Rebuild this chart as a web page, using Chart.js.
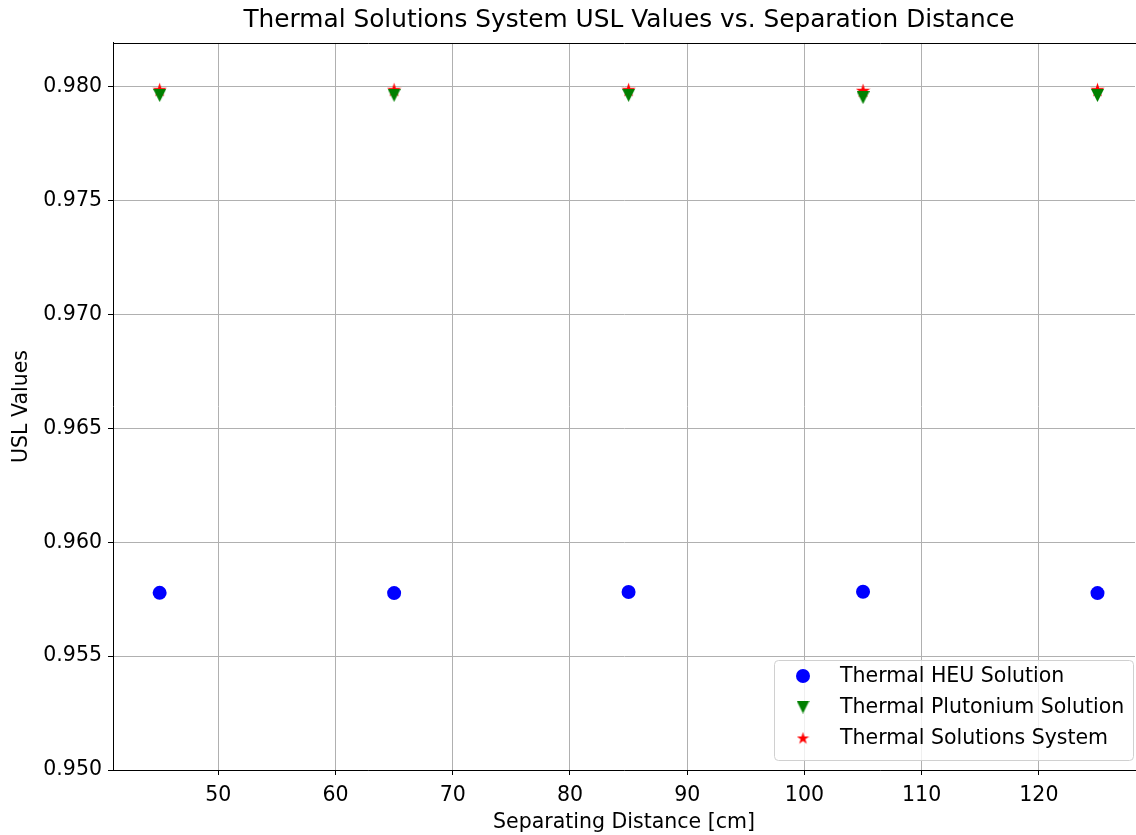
<!DOCTYPE html>
<html><head><meta charset="utf-8">
<script src="https://cdn.jsdelivr.net/npm/chart.js@4"></script>
<style>html,body{margin:0;padding:0;background:#fff}#wrap{width:1136px;height:835px}</style>
</head><body><div id="wrap"><canvas id="c" width="1136" height="835"></canvas></div>
<script>
const distances = [45, 65, 85, 105, 125];
const heuValues = [0.95778, 0.95777, 0.95782, 0.95783, 0.95777];
const puValues = [0.97962, 0.97963, 0.97963, 0.97953, 0.97962];
const systemValues = [0.97988, 0.97988, 0.97988, 0.97984, 0.97988];
const seriesLabels = ['Thermal HEU Solution', 'Thermal Plutonium Solution', 'Thermal Solutions System'];
const xTicks = [50, 60, 70, 80, 90, 100, 110, 120];
const yTicks = [0.950, 0.955, 0.960, 0.965, 0.970, 0.975, 0.980];

const FONT = 'DejaVu Sans';

function makeStar(size, color) {
  const c = document.createElement('canvas');
  c.width = size; c.height = size;
  const g = c.getContext('2d');
  const cx = size / 2, cy = size / 2 + 0.6, R = size / 2, r = R * 0.381966;
  g.beginPath();
  for (let i = 0; i < 10; i++) {
    const a = -Math.PI / 2 + i * Math.PI / 5;
    const rad = i % 2 === 0 ? R : r;
    const px = cx + rad * Math.cos(a), py = cy + rad * Math.sin(a);
    if (i === 0) g.moveTo(px, py); else g.lineTo(px, py);
  }
  g.closePath();
  g.fillStyle = color; g.fill();
  return c;
}
function makeTriDown(size, color) {
  const c = document.createElement('canvas');
  c.width = size; c.height = size;
  const g = c.getContext('2d');
  g.beginPath();
  g.moveTo(0, 0); g.lineTo(size, 0); g.lineTo(size / 2, size);
  g.closePath();
  g.fillStyle = color; g.fill();
  return c;
}
const starImg = makeStar(15, '#ff0000');
const triImg = makeTriDown(13, '#008000');

function toPts(xs, ys) { return xs.map((x, i) => ({x: x, y: ys[i]})); }

const framePlugin = {
  id: 'frame',
  afterLayout(chart) {
    // the axes continue ~10px past the cropped right edge; centre the title over the full axes
    if (chart.titleBlock) chart.titleBlock.right = chart.chartArea.right + 10;
  },
  afterDraw(chart) {
    const ctx = chart.ctx, ca = chart.chartArea;
    ctx.save();
    ctx.strokeStyle = '#000'; ctx.lineWidth = 1;
    ctx.beginPath();
    ctx.moveTo(Math.round(ca.left), Math.round(ca.top) + 0.5);
    ctx.lineTo(chart.width, Math.round(ca.top) + 0.5);
    ctx.stroke();
    // legend
    const w = 359, h = 100;
    const bx = ca.right - 2 - w, by = ca.bottom - 10 - h;
    ctx.beginPath();
    if (ctx.roundRect) ctx.roundRect(bx + 0.5, by + 0.5, w, h, 4); else ctx.rect(bx + 0.5, by + 0.5, w, h);
    ctx.fillStyle = 'rgba(255,255,255,0.8)'; ctx.fill();
    ctx.strokeStyle = '#d0d0d0'; ctx.stroke();
    const rowY = [by + 16, by + 47, by + 78];
    const mx = bx + 29;
    ctx.fillStyle = '#0000ff';
    ctx.beginPath(); ctx.arc(mx, rowY[0], 7, 0, Math.PI * 2); ctx.fill();
    ctx.drawImage(triImg, mx - 6.5, rowY[1] - 6.5);
    ctx.drawImage(makeStar(13, '#ff0000'), mx - 6.5, rowY[2] - 6.5);
    ctx.fillStyle = '#000';
    ctx.font = '20.5px "' + FONT + '"';
    ctx.textBaseline = 'middle';
    ctx.textAlign = 'left';
    for (let i = 0; i < 3; i++) ctx.fillText(chart.data.datasets[i].label, bx + 66, rowY[i] + 1);
    ctx.restore();
  }
};

new Chart(document.getElementById('c'), {
  type: 'scatter',
  data: {
    datasets: [
      {label: seriesLabels[0], data: toPts(distances, heuValues), backgroundColor: '#0000ff', borderColor: '#0000ff', pointRadius: 7, pointHoverRadius: 7, pointStyle: 'circle', borderWidth: 0},
      {label: seriesLabels[1], data: toPts(distances, puValues), pointStyle: triImg, pointRadius: 7, borderWidth: 0},
      {label: seriesLabels[2], data: toPts(distances, systemValues), pointStyle: starImg, pointRadius: 7, borderWidth: 0}
    ]
  },
  options: {
    responsive: false,
    animation: false,
    devicePixelRatio: 1,
    layout: {autoPadding: false, padding: {left: 0, right: 1, top: 0, bottom: 0}},
    plugins: {
      legend: {display: false},
      tooltip: {enabled: false},
      title: {display: true, fullSize: false, text: 'Thermal Solutions System USL Values vs. Separation Distance', color: '#000',
        font: {family: FONT, size: 24.8, weight: 'normal'}, padding: {top: 6, bottom: 7.2}}
    },
    scales: {
      x: {
        type: 'linear', min: 41.02, max: 128.2,
        afterBuildTicks: s => { s.ticks = xTicks.map(v => ({value: v})); },
        afterFit: s => { s.height = 65; s.paddingLeft = 0; s.paddingRight = 0; },
        ticks: {color: '#000', font: {family: FONT, size: 20.5}, padding: 8, maxRotation: 0},
        grid: {color: '#b0b0b0', lineWidth: 1, tickColor: '#000', tickLength: 5},
        border: {display: true, color: '#000', width: 1},
        title: {display: true, text: 'Separating Distance [cm]', color: '#000', font: {family: FONT, size: 20.5}, padding: {top: 2, bottom: 0}}
      },
      y: {
        type: 'linear', min: 0.95, max: 0.98193,
        afterBuildTicks: s => { s.ticks = yTicks.map(v => ({value: v})); },
        afterFit: s => { s.width = 113; s.paddingTop = 0; s.paddingBottom = 0; },
        ticks: {color: '#000', font: {family: FONT, size: 20.5}, padding: 6, callback: v => v.toFixed(3)},
        grid: {color: '#b0b0b0', lineWidth: 1, tickColor: '#000', tickLength: 5},
        border: {display: true, color: '#000', width: 1},
        title: {display: true, text: 'USL Values', color: '#000', font: {family: FONT, size: 20.5}, padding: {top: 9, bottom: 2}}
      }
    }
  },
  plugins: [framePlugin]
});
</script>
</body></html>
